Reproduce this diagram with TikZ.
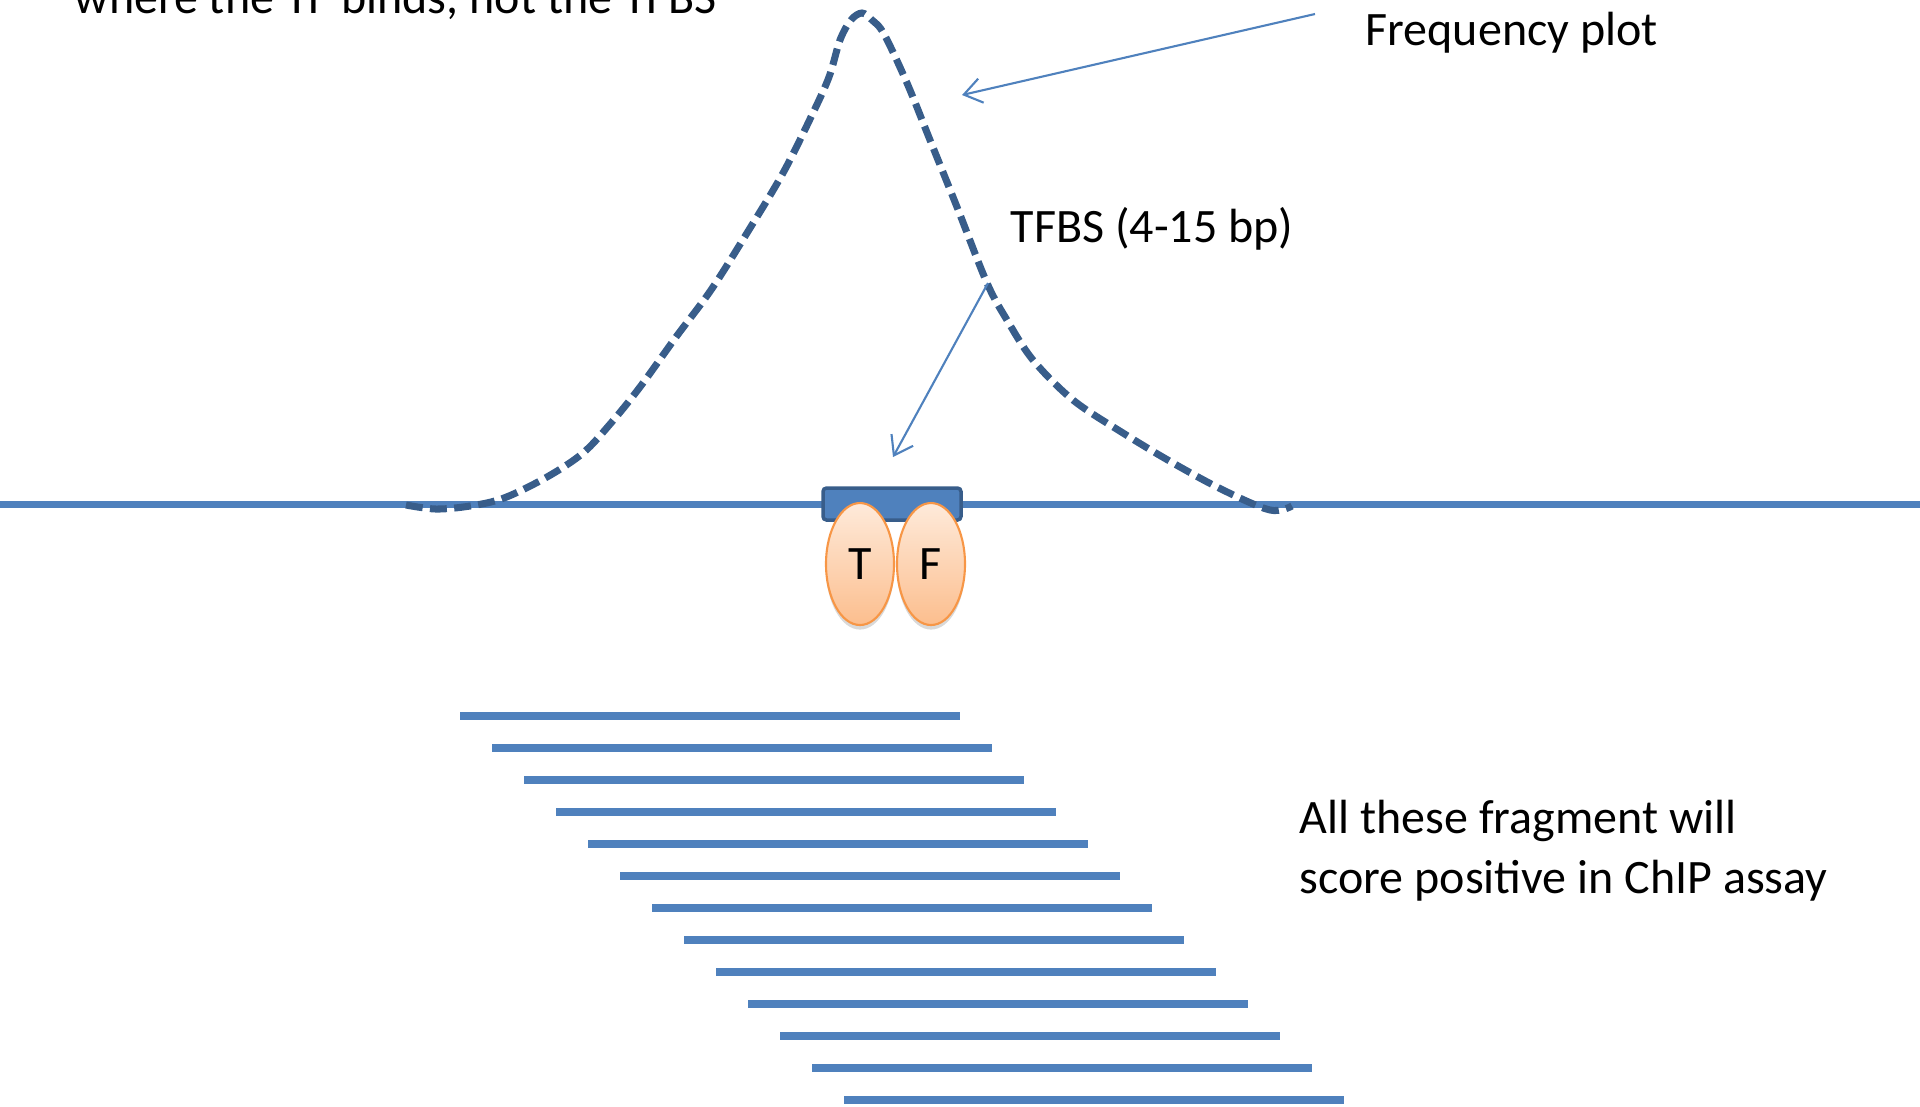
\documentclass[tikz,border=0pt]{standalone}
\usepackage{fontspec}
\setmainfont{Carlito}
\usepackage{tikz}
\usetikzlibrary{arrows.meta,positioning,shapes.geometric,shadows}
\definecolor{dna}{RGB}{79,129,189}
\definecolor{peak}{RGB}{56,93,138}
\definecolor{orange}{RGB}{247,150,70}
\definecolor{peach}{RGB}{254,234,218}
\definecolor{apricot}{RGB}{252,190,142}

\begin{document}
\begin{tikzpicture}[x=0.1mm,y=-0.1mm,font=\fontsize{13.66}{16.8}\selectfont]
\tikzstyle{L}=[inner sep=0pt,anchor=base west,align=left]
\tikzstyle{P}=[ellipse,draw=orange,line width=0.6pt,top color=peach,
bottom color=apricot,minimum width=0.68cm,minimum height=1.22cm,inner sep=0pt,
drop shadow={opacity=0.3,shadow xshift=0pt,shadow yshift=-1.3pt},
font=\fontsize{13.66}{16}\selectfont]
\tikzstyle{A}=[-{Straight Barb[length=5pt,width=7pt]},dna,line width=0.6pt]
\useasboundingbox (0,0) rectangle (1920,1106);
\clip (0,0) rectangle (1920,1106);
% DNA
\draw[dna,line width=2pt](0,504)--(1920,504);
% frequency plot
\draw[peak,line width=2pt,dash pattern=on 4.8pt off 2.1pt] plot[smooth,tension=0.55]
coordinates{(406,505) (436,509) (470,506) (504,498) (547,477) (583,453) (611,423)
(640,387) (676,337) (711,290) (747,233) (783,173) (811,117) (829,77) (840,40)
(851,20) (862,13) (872,20) (884,34) (907,83) (930,140) (957,207) (987,283)
(1007,320) (1033,360) (1073,400) (1123,433) (1173,463) (1223,490) (1270,510)
(1292,506)};
\node[draw=peak,fill=dna,line width=1pt,rounded corners=1pt,minimum width=1.38cm,
minimum height=0.32cm,inner sep=0pt](bs) at (892,504){};
\node[P](t) at (860,564){T};
\node[P](f) at (931,564){F};
% fragments
\foreach \i in {0,...,12}
\draw[dna,line width=2.3pt]({460+32*\i},{716+32*\i})--++(500,0);
% labels
\node[L](where) at (74,13){where the TF binds, not the TFBS};
\node[L](freq) at (1365,45){Frequency plot};
\node[L](tfbs) at (1010,242){TFBS (4-15 bp)};
\node[L](chip) at (1299,893){All these fragment will\\score positive in ChIP assay};
\coordinate (fa) at (1315,14);
\coordinate (fb) at (962,95);
\coordinate (sa) at (988,283);
\coordinate (sb) at (893,457);
\draw[A](fa)--(fb);
\draw[A](sa)--(sb);
\end{tikzpicture}
\end{document}
